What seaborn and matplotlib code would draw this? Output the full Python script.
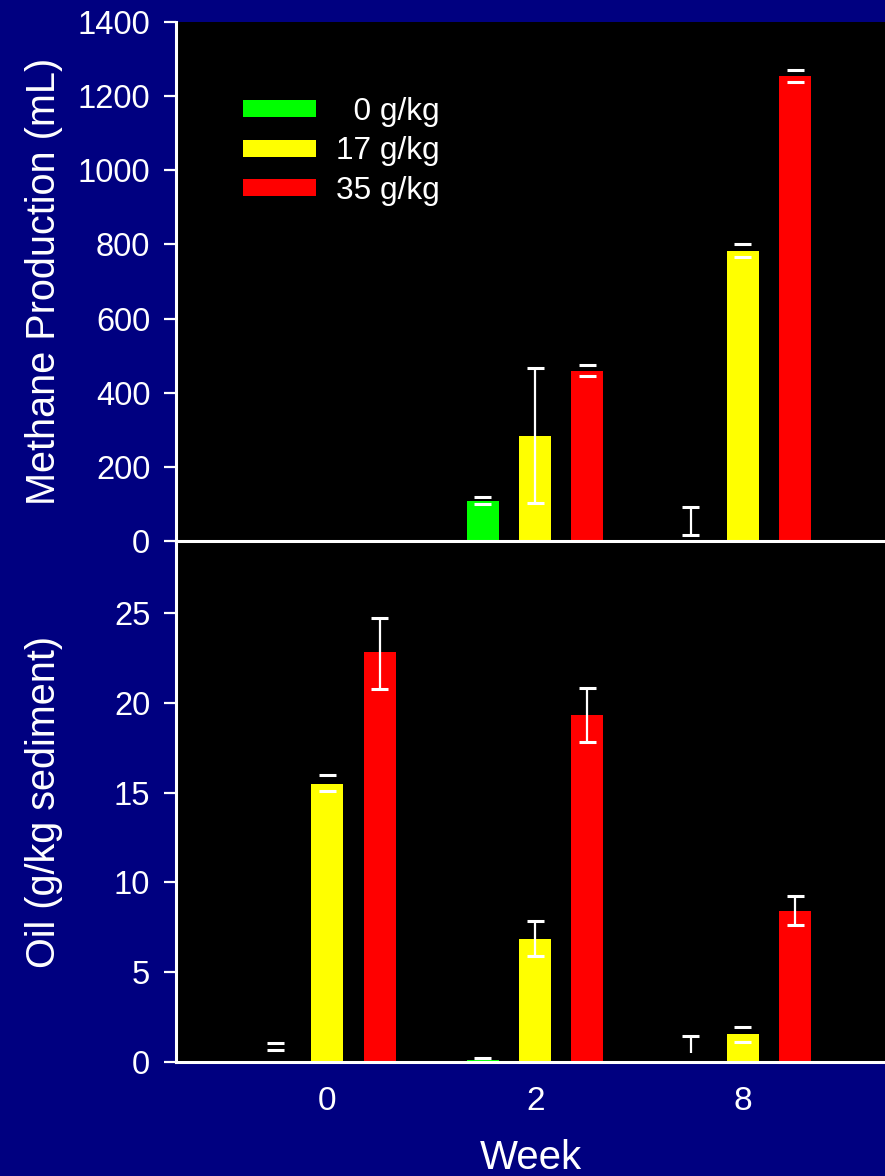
# built-in
import math

# third-party
import numpy as np
import pandas as pd
import matplotlib
matplotlib.use("Agg")
import matplotlib.pyplot as plt
import seaborn as sns

NAN = math.nan

weeks = ["0", "2", "8"]
doses = ["0 g/kg", "17 g/kg", "35 g/kg"]
dose_colors = ["#00ff00", "#ffff00", "#ff0000"]

# rows = weeks, columns = doses
methane = [[0, 0, 0], [108, 283, 458], [0, 781, 1255]]
methane_lo = [[NAN, NAN, NAN], [100, 102, 445], [15, 765, 1237]]
methane_hi = [[NAN, NAN, NAN], [118, 466, 475], [92, 800, 1271]]

oil = [[0, 15.5, 22.8], [0.1, 6.85, 19.3], [0, 1.55, 8.4]]
oil_lo = [[0.65, 15.1, 20.75], [0.02, 5.9, 17.8], [0.48, 1.1, 7.6]]
oil_hi = [[1.08, 15.95, 24.7], [0.2, 7.85, 20.8], [1.47, 1.97, 9.25]]

rows = []
for i, w in enumerate(weeks):
    for j, d in enumerate(doses):
        rows.append({'week': w, 'dose': d,
                     'methane': methane[i][j], 'oil': oil[i][j]})
df = pd.DataFrame(rows)

sns.set_theme(style='ticks')
plt.rcParams['font.family'] = ['Liberation Sans', 'DejaVu Sans']

NAVY = '#000080'
fig = plt.figure(figsize=(8.85, 11.76), dpi=100, facecolor=NAVY)
ax1 = fig.add_axes([0.199, 0.54, 0.801, 0.4413])
ax2 = fig.add_axes([0.199, 0.0969, 0.801, 0.4431])
ax1.set_zorder(2)  # keep the zero line of the top panel on top

bar_kw = dict(x='week', hue='dose', order=weeks, hue_order=doses,
              palette=dose_colors, width=0.754, gap=0.385, errorbar=None,
              saturation=1, linewidth=0)
sns.barplot(data=df, y='methane', ax=ax1, **bar_kw)
sns.barplot(data=df, y='oil', ax=ax2, legend=False, **bar_kw)

for ax in (ax1, ax2):
    ax.set_facecolor('black')
    ax.set_xlim(-0.728, 2.684)

ax1.set_ylim(0, 1400)
ax2.set_ylim(0, 29)

CAP = 0.041


def draw_errors(ax, lo, hi, no_low_cap=()):
    # short whiskers show only the two caps in the original
    to_px = ax.transData.transform
    for j, bars in enumerate(ax.containers):
        for bar in bars:
            xc = bar.get_x() + bar.get_width() / 2
            i = int(round(xc))
            l, h = lo[i][j], hi[i][j]
            if np.isnan(l):
                continue
            span = to_px((xc, h))[1] - to_px((xc, l))[1]
            if span > 16:
                ax.vlines(xc, l, h, color='white', lw=1.6, zorder=5)
            ax.hlines(h, xc - CAP, xc + CAP, color='white', lw=2.2, zorder=5)
            if (i, j) not in no_low_cap:
                ax.hlines(l, xc - CAP, xc + CAP, color='white', lw=2.2,
                          zorder=5)


draw_errors(ax1, methane_lo, methane_hi)
draw_errors(ax2, oil_lo, oil_hi, no_low_cap=[(2, 0)])

for ax in (ax1, ax2):
    for s in ('top', 'right'):
        ax.spines[s].set_visible(False)
    for s in ('left', 'bottom'):
        ax.spines[s].set_color('white')
        ax.spines[s].set_linewidth(2.2)
    ax.tick_params(axis='y', length=8.6, width=1.6, direction='out',
                   pad=10, labelsize=23.5, colors='white')
    ax.yaxis.set_label_coords(-0.16, 0.5)

ax1.set_yticks(range(0, 1401, 200))
ax1.tick_params(axis='x', length=0, labelbottom=False)
ax1.set_xlabel('')
ax1.set_ylabel('Methane Production (mL)', fontsize=28.5, color='white')

ax2.set_yticks(range(0, 26, 5))
ax2.tick_params(axis='x', length=0, pad=17, labelsize=24, colors='white')
ax2.set_ylabel('Oil (g/kg sediment)', fontsize=28.5, color='white')
ax2.set_xlabel('Week', fontsize=29, color='white', labelpad=16)

handles, labels = ax1.get_legend_handles_labels()
ax1.legend(handles, ['  ' + doses[0], doses[1], doses[2]],
           loc='upper left', bbox_to_anchor=(243 / 885, 1 - 97 / 1176),
           bbox_transform=fig.transFigure, frameon=False, fontsize=22.8,
           handlelength=2.3, handleheight=0.44, handletextpad=0.65,
           labelspacing=0.3, borderpad=0, borderaxespad=0,
           labelcolor='white')

fig.savefig('out.png', dpi=100, facecolor=fig.get_facecolor())
